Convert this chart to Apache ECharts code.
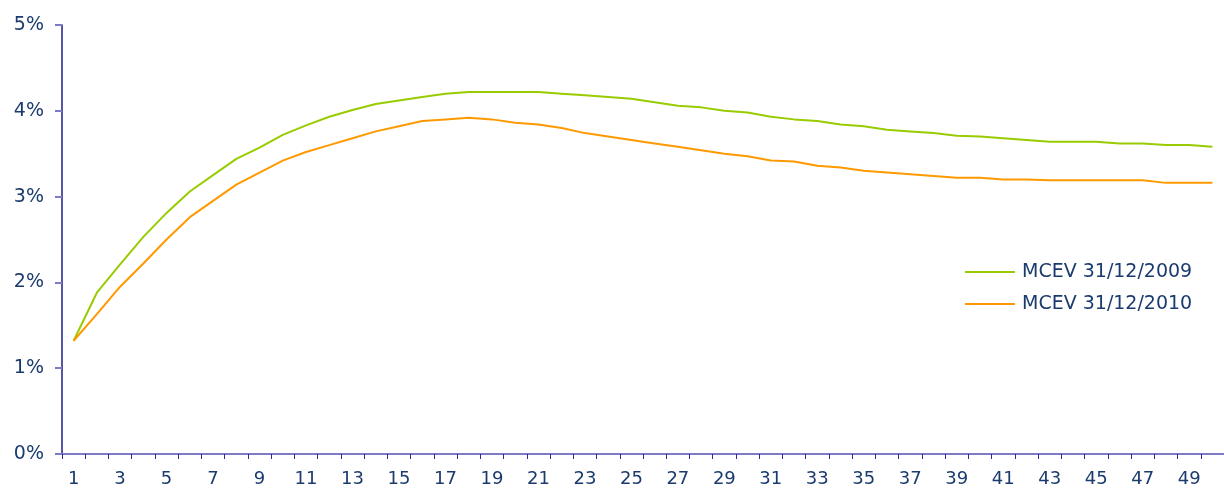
<!DOCTYPE html>
<html>
<head>
<meta charset="utf-8">
<script src="https://cdn.jsdelivr.net/npm/echarts@6/dist/echarts.min.js"></script>
<style>
html,body{margin:0;padding:0;background:#fff;}
#chart{width:1224px;height:488px;}
</style>
</head>
<body>
<div id="chart"></div>
<script>
var categories = [];
for (var k = 1; k <= 50; k++) categories.push(String(k));

var seriesNames = ['MCEV 31/12/2009', 'MCEV 31/12/2010'];

var mcev2009 = [1.32, 1.88, 2.21, 2.53, 2.81, 3.06, 3.25, 3.44, 3.57, 3.72,
                3.83, 3.93, 4.01, 4.08, 4.12, 4.16, 4.20, 4.22, 4.22, 4.22,
                4.22, 4.20, 4.18, 4.16, 4.14, 4.10, 4.06, 4.04, 4.00, 3.98,
                3.93, 3.90, 3.88, 3.84, 3.82, 3.78, 3.76, 3.74, 3.71, 3.70,
                3.68, 3.66, 3.64, 3.64, 3.64, 3.62, 3.62, 3.60, 3.60, 3.58];

var mcev2010 = [1.32, 1.63, 1.95, 2.22, 2.50, 2.76, 2.95, 3.14, 3.28, 3.42,
                3.52, 3.60, 3.68, 3.76, 3.82, 3.88, 3.90, 3.92, 3.90, 3.86,
                3.84, 3.80, 3.74, 3.70, 3.66, 3.62, 3.58, 3.54, 3.50, 3.47,
                3.42, 3.41, 3.36, 3.34, 3.30, 3.28, 3.26, 3.24, 3.22, 3.22,
                3.20, 3.20, 3.19, 3.19, 3.19, 3.19, 3.19, 3.16, 3.16, 3.16];

var yMin = 0, yMax = 5, yStep = 1;

var labelColor = '#1b3b6f';
var font = 'DejaVu Sans';

var chart = echarts.init(document.getElementById('chart'), null, {renderer: 'canvas'});
chart.setOption({
  animation: false,
  backgroundColor: '#ffffff',
  grid: {left: 62, top: 25, width: 1175, height: 430, containLabel: false},
  legend: {
    orient: 'vertical',
    left: 960,
    top: 257,
    icon: 'rect',
    itemWidth: 50,
    itemHeight: 2,
    itemGap: 12,
    textStyle: {color: labelColor, fontFamily: font, fontSize: 19, lineHeight: 20, padding: [0,0,0,2]},
    data: seriesNames
  },
  xAxis: {
    type: 'category',
    data: categories,
    boundaryGap: true,
    axisLine: {lineStyle: {color: '#7c7cc6', width: 2}},
    axisTick: {show: true, interval: 0, alignWithLabel: false, length: 5, lineStyle: {color: '#2a2a9a', width: 1}},
    axisLabel: {interval: 1, margin: 16, color: labelColor, fontFamily: font, fontSize: 18},
    splitLine: {show: false}
  },
  yAxis: {
    type: 'value',
    min: yMin, max: yMax, interval: yStep,
    axisLine: {show: true, lineStyle: {color: '#1c1c8c', width: 1.5}},
    axisTick: {show: true, length: 7, lineStyle: {color: '#7c7cc6', width: 2}},
    axisLabel: {margin: 18, color: labelColor, fontFamily: font, fontSize: 19, formatter: '{value}%'},
    splitLine: {show: false}
  },
  series: [
    {name: seriesNames[0], type: 'line', data: mcev2009, symbol: 'none', smooth: false,
     lineStyle: {color: '#99cc00', width: 2}, itemStyle: {color: '#99cc00'}},
    {name: seriesNames[1], type: 'line', data: mcev2010, symbol: 'none', smooth: false,
     lineStyle: {color: '#ff9900', width: 2}, itemStyle: {color: '#ff9900'}}
  ]
});
</script>
</body>
</html>
